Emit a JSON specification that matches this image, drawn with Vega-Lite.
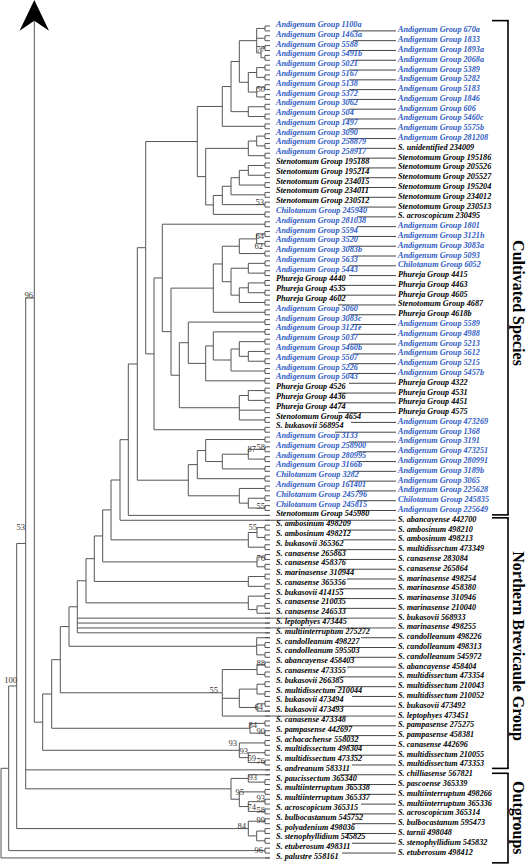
{
"$schema": "https://vega.github.io/schema/vega-lite/v6.json",
"width": 528, "height": 865, "padding": 0,
"autosize": {"type": "fit", "contains": "padding"},
"background": "white",
"config": {"view": {"stroke": null}},
"datasets": {
"v": [
{"x":261,"y":5.5,"y2":7.5},{"x":256.7,"y":1.5,"y2":6.5},{"x":256.7,"y":9.5,"y2":11.5},{"x":256.7,"y":13.5,"y2":15.5},{"x":248.3,"y":10.5,"y2":14.5},{"x":239.3,"y":4,"y2":12.5},{"x":248.3,"y":17.5,"y2":19.5},{"x":231,"y":8.25,"y2":18.5},{"x":222.3,"y":13.375,"y2":21.5},{"x":256.7,"y":23.5,"y2":25.5},{"x":248.3,"y":24.5,"y2":27.5},{"x":248.3,"y":29.5,"y2":31.5},{"x":239.3,"y":30.5,"y2":33.5},{"x":231,"y":32,"y2":35.5},{"x":222.3,"y":33.75,"y2":37.5},{"x":213.3,"y":35.625,"y2":39.5},{"x":205.7,"y":26,"y2":37.56},{"x":197.3,"y":17.44,"y2":31.78},
{"x":256.7,"y":43.5,"y2":45.5},{"x":239.3,"y":44.5,"y2":47.5},{"x":248.3,"y":49.5,"y2":51.5},{"x":248.3,"y":53.5,"y2":55.5},{"x":239.3,"y":54.5,"y2":57.5},{"x":231,"y":50.5,"y2":56},{"x":222.3,"y":46,"y2":53.25},{"x":213.3,"y":49.625,"y2":59.5},{"x":248.3,"y":67.5,"y2":69.5},{"x":239.3,"y":65.5,"y2":68.5},{"x":231,"y":67,"y2":71.5},{"x":213.3,"y":63.5,"y2":69.25},{"x":205.7,"y":66.375,"y2":73.5},{"x":188.3,"y":61.5,"y2":69.94},{"x":248.3,"y":75.5,"y2":77.5},{"x":239.3,"y":76.5,"y2":81.5},{"x":179.3,"y":65.72,"y2":79},{"x":171,"y":54.56,"y2":72.36},{"x":162.3,"y":41.5,"y2":63.46},{"x":154,"y":52.48,"y2":83.5},{"x":145.7,"y":24.61,"y2":67.99},
{"x":248.3,"y":87.5,"y2":89.5},{"x":222.3,"y":88.5,"y2":91.5},{"x":205.7,"y":85.5,"y2":90},{"x":197.3,"y":87.75,"y2":93.5},{"x":248.3,"y":97.5,"y2":99.5},{"x":239.3,"y":95.5,"y2":98.5},{"x":188.3,"y":90.625,"y2":97},{"x":137.3,"y":46.3,"y2":93.81},{"x":128.3,"y":70.06,"y2":101},{"x":120,"y":85.53,"y2":102},
{"x":257,"y":103.5,"y2":105.5},{"x":248.3,"y":104.5,"y2":107.5},{"x":111,"y":93.77,"y2":106},{"x":257,"y":109.5,"y2":111.5},{"x":102.7,"y":99.89,"y2":110.5},{"x":248.3,"y":113.5,"y2":115.5},{"x":94.3,"y":105.2,"y2":114.5},{"x":257,"y":119.5,"y2":121},{"x":248.3,"y":117.5,"y2":120.25},{"x":86,"y":109.85,"y2":118.875},{"x":77.3,"y":114.36,"y2":125},{"x":256.7,"y":126,"y2":129.5},{"x":69,"y":119.68,"y2":127.75},{"x":257,"y":131.5,"y2":133.5},{"x":257,"y":135.5,"y2":137.5},{"x":257,"y":139.5,"y2":141},{"x":239.3,"y":136.5,"y2":140.25},{"x":222.3,"y":132.5,"y2":142},{"x":60.3,"y":123.72,"y2":137.25},{"x":250,"y":143.5,"y2":145.5},{"x":51.7,"y":130.49,"y2":144.5},{"x":248.3,"y":149.5,"y2":151.5},{"x":239.3,"y":147.5,"y2":150.5},{"x":42.7,"y":137.49,"y2":149},{"x":34.3,"y":-0.5,"y2":143.25},
{"x":248.3,"y":154,"y2":155.5},{"x":248.3,"y":159.5,"y2":161.5},{"x":239.3,"y":157.5,"y2":160.5},{"x":231,"y":154.75,"y2":159},{"x":25.7,"y":56.58,"y2":156.875},{"x":256.7,"y":165.5,"y2":167.5},{"x":248.3,"y":163.5,"y2":166.5},{"x":16.7,"y":106.73,"y2":165},{"x":8.7,"y":135.86,"y2":169.5},{"x":1,"y":152.68,"y2":171}
],
"h": [
{"x":261,"x2":265,"y":5.5},{"x":261,"x2":265,"y":7.5},
{"x":256.7,"x2":265,"y":1.5},{"x":256.7,"x2":265,"y":3.5},{"x":256.7,"x2":261,"y":6.5},
{"x":256.7,"x2":265,"y":9.5},{"x":256.7,"x2":265,"y":11.5},
{"x":256.7,"x2":265,"y":13.5},{"x":256.7,"x2":265,"y":15.5},
{"x":248.3,"x2":256.7,"y":10.5},{"x":248.3,"x2":256.7,"y":14.5},
{"x":239.3,"x2":256.7,"y":4},{"x":239.3,"x2":248.3,"y":12.5},
{"x":248.3,"x2":265,"y":17.5},{"x":248.3,"x2":265,"y":19.5},
{"x":231,"x2":239.3,"y":8.25},{"x":231,"x2":248.3,"y":18.5},
{"x":222.3,"x2":231,"y":13.375},{"x":222.3,"x2":265,"y":21.5},
{"x":256.7,"x2":265,"y":23.5},{"x":256.7,"x2":265,"y":25.5},
{"x":248.3,"x2":256.7,"y":24.5},{"x":248.3,"x2":265,"y":27.5},
{"x":248.3,"x2":265,"y":29.5},{"x":248.3,"x2":265,"y":31.5},
{"x":239.3,"x2":248.3,"y":30.5},{"x":239.3,"x2":265,"y":33.5},
{"x":231,"x2":239.3,"y":32},{"x":231,"x2":265,"y":35.5},
{"x":222.3,"x2":231,"y":33.75},{"x":222.3,"x2":265,"y":37.5},
{"x":213.3,"x2":222.3,"y":35.625},{"x":213.3,"x2":265,"y":39.5},
{"x":205.7,"x2":248.3,"y":26},{"x":205.7,"x2":213.3,"y":37.56},
{"x":197.3,"x2":222.3,"y":17.44},{"x":197.3,"x2":205.7,"y":31.78},
{"x":256.7,"x2":265,"y":43.5},{"x":256.7,"x2":265,"y":45.5},
{"x":239.3,"x2":256.7,"y":44.5},{"x":239.3,"x2":265,"y":47.5},
{"x":248.3,"x2":265,"y":49.5},{"x":248.3,"x2":265,"y":51.5},
{"x":248.3,"x2":265,"y":53.5},{"x":248.3,"x2":265,"y":55.5},
{"x":239.3,"x2":248.3,"y":54.5},{"x":239.3,"x2":265,"y":57.5},
{"x":231,"x2":248.3,"y":50.5},{"x":231,"x2":239.3,"y":56},
{"x":222.3,"x2":239.3,"y":46},{"x":222.3,"x2":231,"y":53.25},
{"x":213.3,"x2":222.3,"y":49.625},{"x":213.3,"x2":265,"y":59.5},
{"x":248.3,"x2":265,"y":67.5},{"x":248.3,"x2":265,"y":69.5},
{"x":239.3,"x2":265,"y":65.5},{"x":239.3,"x2":248.3,"y":68.5},
{"x":231,"x2":239.3,"y":67},{"x":231,"x2":265,"y":71.5},
{"x":213.3,"x2":265,"y":63.5},{"x":213.3,"x2":231,"y":69.25},
{"x":205.7,"x2":213.3,"y":66.375},{"x":205.7,"x2":265,"y":73.5},
{"x":188.3,"x2":265,"y":61.5},{"x":188.3,"x2":205.7,"y":69.94},
{"x":248.3,"x2":265,"y":75.5},{"x":248.3,"x2":265,"y":77.5},
{"x":239.3,"x2":248.3,"y":76.5},{"x":239.3,"x2":265,"y":79.5},{"x":239.3,"x2":265,"y":81.5},
{"x":179.3,"x2":188.3,"y":65.72},{"x":179.3,"x2":239.3,"y":79},
{"x":171,"x2":213.3,"y":54.56},{"x":171,"x2":179.3,"y":72.36},
{"x":162.3,"x2":265,"y":41.5},{"x":162.3,"x2":171,"y":63.46},
{"x":154,"x2":162.3,"y":52.48},{"x":154,"x2":265,"y":83.5},
{"x":145.7,"x2":197.3,"y":24.61},{"x":145.7,"x2":154,"y":67.99},
{"x":248.3,"x2":265,"y":87.5},{"x":248.3,"x2":265,"y":89.5},
{"x":222.3,"x2":248.3,"y":88.5},{"x":222.3,"x2":265,"y":91.5},
{"x":205.7,"x2":265,"y":85.5},{"x":205.7,"x2":222.3,"y":90},
{"x":197.3,"x2":205.7,"y":87.75},{"x":197.3,"x2":265,"y":93.5},
{"x":248.3,"x2":265,"y":97.5},{"x":248.3,"x2":265,"y":99.5},
{"x":239.3,"x2":265,"y":95.5},{"x":239.3,"x2":248.3,"y":98.5},
{"x":188.3,"x2":197.3,"y":90.625},{"x":188.3,"x2":239.3,"y":97},
{"x":137.3,"x2":145.7,"y":46.3},{"x":137.3,"x2":188.3,"y":93.81},
{"x":128.3,"x2":137.3,"y":70.06},{"x":128.3,"x2":270,"y":101},
{"x":120,"x2":128.3,"y":85.53},{"x":120,"x2":396,"y":102},
{"x":257,"x2":265,"y":103.5},{"x":257,"x2":265,"y":105.5},
{"x":248.3,"x2":257,"y":104.5},{"x":248.3,"x2":265,"y":107.5},
{"x":111,"x2":120,"y":93.77},{"x":111,"x2":248.3,"y":106},
{"x":257,"x2":265,"y":109.5},{"x":257,"x2":265,"y":111.5},
{"x":102.7,"x2":111,"y":99.89},{"x":102.7,"x2":257,"y":110.5},
{"x":248.3,"x2":265,"y":113.5},{"x":248.3,"x2":265,"y":115.5},
{"x":94.3,"x2":102.7,"y":105.2},{"x":94.3,"x2":248.3,"y":114.5},
{"x":257,"x2":265,"y":119.5},{"x":257,"x2":270,"y":121},
{"x":248.3,"x2":265,"y":117.5},{"x":248.3,"x2":257,"y":120.25},
{"x":86,"x2":94.3,"y":109.85},{"x":86,"x2":248.3,"y":118.875},
{"x":77.3,"x2":86,"y":114.36},{"x":77.3,"x2":396,"y":122},{"x":77.3,"x2":270,"y":123},{"x":77.3,"x2":396,"y":124},{"x":77.3,"x2":270,"y":125},
{"x":256.7,"x2":270,"y":126},{"x":256.7,"x2":265,"y":127.5},{"x":256.7,"x2":265,"y":129.5},
{"x":69,"x2":77.3,"y":119.68},{"x":69,"x2":256.7,"y":127.75},
{"x":257,"x2":265,"y":131.5},{"x":257,"x2":265,"y":133.5},
{"x":257,"x2":265,"y":135.5},{"x":257,"x2":265,"y":137.5},
{"x":257,"x2":265,"y":139.5},{"x":257,"x2":270,"y":141},
{"x":239.3,"x2":257,"y":136.5},{"x":239.3,"x2":257,"y":140.25},
{"x":222.3,"x2":257,"y":132.5},{"x":222.3,"x2":239.3,"y":138.375},{"x":222.3,"x2":396,"y":142},
{"x":60.3,"x2":69,"y":123.72},{"x":60.3,"x2":222.3,"y":137.25},
{"x":250,"x2":265,"y":143.5},{"x":250,"x2":265,"y":145.5},
{"x":51.7,"x2":60.3,"y":130.49},{"x":51.7,"x2":250,"y":144.5},
{"x":248.3,"x2":265,"y":149.5},{"x":248.3,"x2":265,"y":151.5},
{"x":239.3,"x2":265,"y":147.5},{"x":239.3,"x2":248.3,"y":150.5},
{"x":42.7,"x2":51.7,"y":137.49},{"x":42.7,"x2":239.3,"y":149},
{"x":34.3,"x2":42.7,"y":143.25},
{"x":248.3,"x2":270,"y":154},{"x":248.3,"x2":265,"y":155.5},
{"x":248.3,"x2":265,"y":159.5},{"x":248.3,"x2":265,"y":161.5},
{"x":239.3,"x2":265,"y":157.5},{"x":239.3,"x2":248.3,"y":160.5},
{"x":231,"x2":248.3,"y":154.75},{"x":231,"x2":239.3,"y":159},
{"x":25.7,"x2":34.3,"y":56.58},{"x":25.7,"x2":270,"y":153},{"x":25.7,"x2":231,"y":156.875},
{"x":256.7,"x2":265,"y":165.5},{"x":256.7,"x2":265,"y":167.5},
{"x":248.3,"x2":265,"y":163.5},{"x":248.3,"x2":256.7,"y":166.5},
{"x":16.7,"x2":25.7,"y":106.73},{"x":16.7,"x2":248.3,"y":165},
{"x":8.7,"x2":16.7,"y":135.86},{"x":8.7,"x2":265,"y":169.5},
{"x":1,"x2":8.7,"y":152.68},{"x":1,"x2":270,"y":171}
],
"pairs": [
{"y":1,"y2":2},{"y":3,"y2":4},{"y":5,"y2":6},{"y":7,"y2":8},{"y":9,"y2":10},{"y":11,"y2":12},{"y":13,"y2":14},{"y":15,"y2":16},{"y":17,"y2":18},{"y":19,"y2":20},
{"y":21,"y2":22},{"y":23,"y2":24},{"y":25,"y2":26},{"y":27,"y2":28},{"y":29,"y2":30},{"y":31,"y2":32},{"y":33,"y2":34},{"y":35,"y2":36},{"y":37,"y2":38},{"y":39,"y2":40},
{"y":41,"y2":42},{"y":43,"y2":44},{"y":45,"y2":46},{"y":47,"y2":48},{"y":49,"y2":50},{"y":51,"y2":52},{"y":53,"y2":54},{"y":55,"y2":56},{"y":57,"y2":58},{"y":59,"y2":60},
{"y":61,"y2":62},{"y":63,"y2":64},{"y":65,"y2":66},{"y":67,"y2":68},{"y":69,"y2":70},{"y":71,"y2":72},{"y":73,"y2":74},{"y":75,"y2":76},{"y":77,"y2":78},{"y":79,"y2":80},
{"y":81,"y2":82},{"y":83,"y2":84},{"y":85,"y2":86},{"y":87,"y2":88},{"y":89,"y2":90},{"y":91,"y2":92},{"y":93,"y2":94},{"y":95,"y2":96},{"y":97,"y2":98},{"y":99,"y2":100},
{"y":103,"y2":104},{"y":105,"y2":106},{"y":107,"y2":108},{"y":109,"y2":110},{"y":111,"y2":112},{"y":113,"y2":114},{"y":115,"y2":116},{"y":117,"y2":118},{"y":119,"y2":120},
{"y":127,"y2":128},{"y":129,"y2":130},{"y":131,"y2":132},{"y":133,"y2":134},{"y":135,"y2":136},{"y":137,"y2":138},{"y":139,"y2":140},
{"y":143,"y2":144},{"y":145,"y2":146},{"y":147,"y2":148},{"y":149,"y2":150},{"y":151,"y2":152},
{"y":155,"y2":156},{"y":157,"y2":158},{"y":159,"y2":160},{"y":161,"y2":162},{"y":163,"y2":164},{"y":165,"y2":166},{"y":167,"y2":168},{"y":169,"y2":170}
],
"lead": [
{"x":353,"p":2},{"x":353,"p":4},{"x":349,"p":6},{"x":353,"p":8},{"x":349,"p":10},{"x":349,"p":12},{"x":349,"p":14},{"x":349,"p":16},{"x":349,"p":18},{"x":345,"p":20},
{"x":349,"p":22},{"x":349,"p":24},{"x":357,"p":26},{"x":357,"p":28},{"x":359,"p":30},{"x":359,"p":32},{"x":359,"p":34},{"x":359,"p":36},{"x":359,"p":38},{"x":357,"p":40},
{"x":357,"p":42},{"x":349,"p":44},{"x":349,"p":46},{"x":353,"p":48},{"x":349,"p":50},{"x":349,"p":52},{"x":338,"p":54},{"x":338,"p":56},{"x":338,"p":58},{"x":349,"p":60},
{"x":353,"p":62},{"x":353,"p":64},{"x":349,"p":66},{"x":353,"p":68},{"x":349,"p":70},{"x":349,"p":72},{"x":349,"p":74},{"x":338,"p":76},{"x":338,"p":78},{"x":338,"p":80},
{"x":351,"p":82},{"x":335,"p":84},{"x":349,"p":86},{"x":357,"p":88},{"x":357,"p":90},{"x":353,"p":92},{"x":349,"p":94},{"x":357,"p":96},{"x":357,"p":98},{"x":357,"p":100},
{"x":343,"p":104},{"x":343,"p":106},{"x":335,"p":108},{"x":339,"p":110},{"x":339,"p":112},{"x":347,"p":114},{"x":339,"p":116},{"x":335,"p":118},{"x":339,"p":120},
{"x":361,"p":126},{"x":350,"p":128},{"x":350,"p":130},{"x":347,"p":132},{"x":339,"p":134},{"x":335,"p":136},{"x":352,"p":138},{"x":335,"p":140},
{"x":339,"p":144},{"x":344,"p":146},{"x":348,"p":148},{"x":352,"p":150},{"x":352,"p":152},{"x":340,"p":154},
{"x":348,"p":156},{"x":361,"p":158},{"x":361,"p":160},{"x":348,"p":162},{"x":352,"p":164},{"x":345,"p":166},{"x":352,"p":168},{"x":342,"p":170}
],
"left": [
{"t":"Andigenum Group 1100a","p":1},{"t":"Andigenum Group 1463a","p":3},{"t":"Andigenum Group 5588","p":5},{"t":"Andigenum Group 5491b","p":7},{"t":"Andigenum Group 5021","p":9},{"t":"Andigenum Group 5167","p":11},{"t":"Andigenum Group 5138","p":13},{"t":"Andigenum Group 5372","p":15},{"t":"Andigenum Group 3062","p":17},{"t":"Andigenum Group 504","p":19},
{"t":"Andigenum Group 1497","p":21},{"t":"Andigenum Group 3090","p":23},{"t":"Andigenum Group 258879","p":25},{"t":"Andigenum Group 258917","p":27},{"t":"Stenotomum Group 195188","p":29},{"t":"Stenotomum Group 195214","p":31},{"t":"Stenotomum Group 234015","p":33},{"t":"Stenotomum Group 234011","p":35},{"t":"Stenotomum Group 230512","p":37},{"t":"Chilotanum Group 245940","p":39},
{"t":"Andigenum Group 281038","p":41},{"t":"Andigenum Group 5594","p":43},{"t":"Andigenum Group 3520","p":45},{"t":"Andigenum Group 3083b","p":47},{"t":"Andigenum Group 5633","p":49},{"t":"Andigenum Group 5443","p":51},{"t":"Phureja Group 4440","p":53},{"t":"Phureja Group 4535","p":55},{"t":"Phureja Group 4602","p":57},{"t":"Andigenum Group 5060","p":59},
{"t":"Andigenum Group 3083c","p":61},{"t":"Andigenum Group 3121e","p":63},{"t":"Andigenum Group 5037","p":65},{"t":"Andigenum Group 5460b","p":67},{"t":"Andigenum Group 5507","p":69},{"t":"Andigenum Group 5226","p":71},{"t":"Andigenum Group 5043","p":73},{"t":"Phureja Group 4526","p":75},{"t":"Phureja Group 4436","p":77},{"t":"Phureja Group 4474","p":79},
{"t":"Stenotomum Group 4654","p":81},{"t":"S. bukasovii 568954","p":83},{"t":"Andigenum Group 3133","p":85},{"t":"Andigenum Group 258900","p":87},{"t":"Andigenum Group 280995","p":89},{"t":"Andigenum Group 3166b","p":91},{"t":"Chilotanum Group 3282","p":93},{"t":"Andigenum Group 161401","p":95},{"t":"Chilotanum Group 245796","p":97},{"t":"Chilotanum Group 245815","p":99},
{"t":"Stenotomum Group 545980","p":101},{"t":"S. ambosinum 498209","p":103},{"t":"S. ambosinum 498212","p":105},{"t":"S. bukasovii 365362","p":107},{"t":"S. canasense 265863","p":109},{"t":"S. canasense 458376","p":111},{"t":"S. marinasense 310944","p":113},{"t":"S. canasense 365356","p":115},{"t":"S. bukasovii 414155","p":117},{"t":"S. canasense 210035","p":119},
{"t":"S. canasense 246533","p":121},{"t":"S. leptophyes 473445","p":123},{"t":"S. multiinterruptum 275272","p":125},{"t":"S. candolleanum 498227","p":127},{"t":"S. candolleanum 595503","p":129},{"t":"S. abancayense 458403","p":131},{"t":"S. canasense 473355","p":133},{"t":"S. bukasovii 266385","p":135},{"t":"S. multidissectum 210044","p":137},{"t":"S. bukasovii 473494","p":139},
{"t":"S. bukasovii 473493","p":141},{"t":"S. canasense 473348","p":143},{"t":"S. pampasense 442697","p":145},{"t":"S. achacachense 558032","p":147},{"t":"S. multidissectum 498304","p":149},{"t":"S. multidissectum 473352","p":151},{"t":"S. andreanum 583311","p":153},{"t":"S. paucissectum 365340","p":155},{"t":"S. multiinterruptum 365338","p":157},{"t":"S. multiinterruptum 365337","p":159},
{"t":"S. acroscopicum 365315","p":161},{"t":"S. bulbocastanum 545752","p":163},{"t":"S. polyadenium 498036","p":165},{"t":"S. stenophyllidium 545825","p":167},{"t":"S. etuberosum 498311","p":169},{"t":"S. palustre 558161","p":171}
],
"right": [
{"t":"Andigenum Group 670a","p":2},{"t":"Andigenum Group 1833","p":4},{"t":"Andigenum Group 1893a","p":6},{"t":"Andigenum Group 2068a","p":8},{"t":"Andigenum Group 5389","p":10},{"t":"Andigenum Group 5282","p":12},{"t":"Andigenum Group 5183","p":14},{"t":"Andigenum Group 1846","p":16},{"t":"Andigenum Group 606","p":18},{"t":"Andigenum Group 5460c","p":20},
{"t":"Andigenum Group 5575b","p":22},{"t":"Andigenum Group 281208","p":24},{"t":"S. unidentified 234009","p":26},{"t":"Stenotomum Group 195186","p":28},{"t":"Stenotomum Group 205526","p":30},{"t":"Stenotomum Group 205527","p":32},{"t":"Stenotomum Group 195204","p":34},{"t":"Stenotomum Group 234012","p":36},{"t":"Stenotomum Group 230513","p":38},{"t":"S. acroscopicum 230495","p":40},
{"t":"Andigenum Group 1801","p":42},{"t":"Andigenum Group 3121h","p":44},{"t":"Andigenum Group 3083a","p":46},{"t":"Andigenum Group 5093","p":48},{"t":"Chilotanum Group 6052","p":50},{"t":"Phureja Group 4415","p":52},{"t":"Phureja Group 4463","p":54},{"t":"Phureja Group 4605","p":56},{"t":"Stenotomum Group 4687","p":58},{"t":"Phureja Group 4618b","p":60},
{"t":"Andigenum Group 5589","p":62},{"t":"Andigenum Group 4988","p":64},{"t":"Andigenum Group 5213","p":66},{"t":"Andigenum Group 5612","p":68},{"t":"Andigenum Group 5215","p":70},{"t":"Andigenum Group 5457b","p":72},{"t":"Phureja Group 4322","p":74},{"t":"Phureja Group 4531","p":76},{"t":"Phureja Group 4451","p":78},{"t":"Phureja Group 4575","p":80},
{"t":"Andigenum Group 473269","p":82},{"t":"Andigenum Group 1368","p":84},{"t":"Andigenum Group 3191","p":86},{"t":"Andigenum Group 473251","p":88},{"t":"Andigenum Group 280991","p":90},{"t":"Andigenum Group 3189b","p":92},{"t":"Andigenum Group 3065","p":94},{"t":"Andigenum Group 225628","p":96},{"t":"Chilotanum Group 245835","p":98},{"t":"Andigenum Group 225649","p":100},
{"t":"S. abancayense 442700","p":102},{"t":"S. ambosinum 498210","p":104},{"t":"S. ambosinum 498213","p":106},{"t":"S. multidissectum 473349","p":108},{"t":"S. canasense 283084","p":110},{"t":"S. canasense 265864","p":112},{"t":"S. marinasense 498254","p":114},{"t":"S. marinasense 458380","p":116},{"t":"S. marinasense 310946","p":118},{"t":"S. marinasense 210040","p":120},
{"t":"S. bukasovii 568933","p":122},{"t":"S. marinasense 498255","p":124},{"t":"S. candolleanum 498226","p":126},{"t":"S. candolleanum 498313","p":128},{"t":"S. candolleanum 545972","p":130},{"t":"S. abancayense 458404","p":132},{"t":"S. multidissectum 473354","p":134},{"t":"S. multidissectum 210043","p":136},{"t":"S. multidissectum 210052","p":138},{"t":"S. bukasovii 473492","p":140},
{"t":"S. leptophyes 473451","p":142},{"t":"S. pampasense 275275","p":144},{"t":"S. pampasense 458381","p":146},{"t":"S. canasense 442696","p":148},{"t":"S. multidissectum 210055","p":150},{"t":"S. multidissectum 473353","p":152},{"t":"S. chilliasense 567821","p":154},{"t":"S. pascoense 365339","p":156},{"t":"S. multiinterruptum 498266","p":158},{"t":"S. multiinterruptum 365336","p":160},
{"t":"S. acroscopicum 365314","p":162},{"t":"S. bulbocastanum 595473","p":164},{"t":"S. tarnii 498048","p":166},{"t":"S. stenophyllidium 545832","p":168},{"t":"S. etuberosum 498412","p":170}
],
"support": [
{"t":"77","x":265,"y":5.7},{"t":"50","x":265,"y":13.87},{"t":"53","x":264,"y":36.96},{"t":"64","x":264,"y":43.91},{"t":"62","x":263,"y":45.95},{"t":"87","x":256,"y":87.43},{"t":"58","x":265,"y":87.03},{"t":"55","x":265,"y":99.08},{"t":"55","x":257,"y":103.37},{"t":"76","x":265,"y":109.71},
{"t":"88","x":265,"y":131.16},{"t":"55","x":218,"y":136.68},{"t":"64","x":263,"y":140.15},{"t":"84","x":257,"y":143.83},{"t":"90","x":265,"y":145.06},{"t":"93","x":237,"y":147.6},{"t":"93","x":248,"y":149.2},{"t":"59","x":256,"y":150.5},{"t":"76","x":265,"y":151.1},{"t":"93","x":257,"y":154.45},
{"t":"95","x":244,"y":157.52},{"t":"93","x":265,"y":158.85},{"t":"74","x":256,"y":160.5},{"t":"58","x":265,"y":161.3},{"t":"99","x":265,"y":163.2},{"t":"84","x":246,"y":164.47},{"t":"96","x":263,"y":169.37},{"t":"96","x":33,"y":55.97},{"t":"53","x":25,"y":103.37},{"t":"100","x":17,"y":134.63}
],
"groups": [
{"t":"Cultivated Species","y":-0.1,"y2":100.9,"c":57.6},
{"t":"Northern Brevicaule Group","y":101.5,"y2":152.7,"c":127.7},
{"t":"Outgroups","y":153.7,"y2":172.0,"c":162.8}
]
},
"layer": [
{"data":{"name":"v"},"mark":{"type":"rule","color":"#555","strokeWidth":1},
 "encoding":{"x":{"field":"x","type":"quantitative","scale":{"domain":[0,528],"nice":false,"zero":false},"axis":null},
 "y":{"field":"y","type":"quantitative","scale":{"domain":[-4.313,172.44],"nice":false,"zero":false,"reverse":true},"axis":null},"y2":{"field":"y2"}}},
{"data":{"name":"h"},"mark":{"type":"rule","color":"#555","strokeWidth":1},
 "encoding":{"x":{"field":"x","type":"quantitative","scale":{"domain":[0,528],"nice":false,"zero":false},"axis":null},"x2":{"field":"x2"},
 "y":{"field":"y","type":"quantitative","scale":{"domain":[-4.313,172.44],"nice":false,"zero":false,"reverse":true},"axis":null}}},
{"data":{"name":"pairs"},"mark":{"type":"rule","color":"#555","strokeWidth":1},
 "encoding":{"x":{"datum":265,"type":"quantitative","scale":{"domain":[0,528],"nice":false,"zero":false},"axis":null},
 "y":{"field":"y","type":"quantitative","scale":{"domain":[-4.313,172.44],"nice":false,"zero":false,"reverse":true},"axis":null},"y2":{"field":"y2"}}},
{"data":{"name":"left"},"mark":{"type":"rule","color":"#555","strokeWidth":1},
 "encoding":{"x":{"datum":265,"type":"quantitative","scale":{"domain":[0,528],"nice":false,"zero":false},"axis":null},"x2":{"datum":270},
 "y":{"field":"p","type":"quantitative","scale":{"domain":[-4.313,172.44],"nice":false,"zero":false,"reverse":true},"axis":null}}},
{"data":{"name":"right"},"mark":{"type":"rule","color":"#555","strokeWidth":1},
 "encoding":{"x":{"datum":265,"type":"quantitative","scale":{"domain":[0,528],"nice":false,"zero":false},"axis":null},"x2":{"datum":270},
 "y":{"field":"p","type":"quantitative","scale":{"domain":[-4.313,172.44],"nice":false,"zero":false,"reverse":true},"axis":null}}},
{"data":{"name":"lead"},"mark":{"type":"rule","color":"#444","strokeWidth":1},
 "encoding":{"x":{"field":"x","type":"quantitative","scale":{"domain":[0,528],"nice":false,"zero":false},"axis":null},"x2":{"datum":396},
 "y":{"field":"p","type":"quantitative","scale":{"domain":[-4.313,172.44],"nice":false,"zero":false,"reverse":true},"axis":null}}},
{"data":{"name":"groups"},"mark":{"type":"rule","color":"black","strokeWidth":1.6},
 "encoding":{"x":{"datum":508,"type":"quantitative","scale":{"domain":[0,528],"nice":false,"zero":false},"axis":null},
 "y":{"field":"y","type":"quantitative","scale":{"domain":[-4.313,172.44],"nice":false,"zero":false,"reverse":true},"axis":null},"y2":{"field":"y2"}}},
{"data":{"name":"groups"},"mark":{"type":"rule","color":"black","strokeWidth":1.6},
 "encoding":{"x":{"datum":492,"type":"quantitative","scale":{"domain":[0,528],"nice":false,"zero":false},"axis":null},"x2":{"datum":508.8},
 "y":{"field":"y","type":"quantitative","scale":{"domain":[-4.313,172.44],"nice":false,"zero":false,"reverse":true},"axis":null}}},
{"data":{"name":"groups"},"mark":{"type":"rule","color":"black","strokeWidth":1.6},
 "encoding":{"x":{"datum":492,"type":"quantitative","scale":{"domain":[0,528],"nice":false,"zero":false},"axis":null},"x2":{"datum":508.8},
 "y":{"field":"y2","type":"quantitative","scale":{"domain":[-4.313,172.44],"nice":false,"zero":false,"reverse":true},"axis":null}}},
{"data":{"values":[{}]},"mark":{"type":"point","shape":"M0,-1L0.96,1L0,0.35L-0.96,1Z","filled":true,"color":"black","opacity":1,"size":942,"strokeWidth":0},
 "encoding":{"x":{"datum":34.3,"type":"quantitative","scale":{"domain":[0,528],"nice":false,"zero":false},"axis":null},
 "y":{"datum":-1.176,"type":"quantitative","scale":{"domain":[-4.313,172.44],"nice":false,"zero":false,"reverse":true},"axis":null}}},
{"data":{"name":"left"},"mark":{"type":"text","align":"left","baseline":"middle","font":"Liberation Serif","fontSize":8.2,"fontWeight":"bold","fontStyle":"italic","dy":-1},
 "encoding":{"x":{"datum":276,"type":"quantitative","scale":{"domain":[0,528],"nice":false,"zero":false},"axis":null},
 "y":{"field":"p","type":"quantitative","scale":{"domain":[-4.313,172.44],"nice":false,"zero":false,"reverse":true},"axis":null},
 "text":{"field":"t"},
 "color":{"condition":{"test":"indexof(datum.t,'Andigenum')>=0 || indexof(datum.t,'Chilotanum')>=0","value":"#2f5cc4"},"value":"#000000"}}},
{"data":{"name":"right"},"mark":{"type":"text","align":"left","baseline":"middle","font":"Liberation Serif","fontSize":8.2,"fontWeight":"bold","fontStyle":"italic","dy":-0.5},
 "encoding":{"x":{"datum":398,"type":"quantitative","scale":{"domain":[0,528],"nice":false,"zero":false},"axis":null},
 "y":{"field":"p","type":"quantitative","scale":{"domain":[-4.313,172.44],"nice":false,"zero":false,"reverse":true},"axis":null},
 "text":{"field":"t"},
 "color":{"condition":{"test":"indexof(datum.t,'Andigenum')>=0 || indexof(datum.t,'Chilotanum')>=0","value":"#2f5cc4"},"value":"#000000"}}},
{"data":{"name":"support"},"mark":{"type":"text","align":"right","baseline":"middle","font":"Liberation Serif","fontSize":8.5,"color":"#333"},
 "encoding":{"x":{"field":"x","type":"quantitative","scale":{"domain":[0,528],"nice":false,"zero":false},"axis":null},
 "y":{"field":"y","type":"quantitative","scale":{"domain":[-4.313,172.44],"nice":false,"zero":false,"reverse":true},"axis":null},
 "text":{"field":"t"}}},
{"data":{"name":"groups"},"mark":{"type":"text","align":"center","baseline":"middle","angle":90,"font":"Liberation Serif","fontSize":16,"fontWeight":"bold","color":"black"},
 "encoding":{"x":{"datum":518,"type":"quantitative","scale":{"domain":[0,528],"nice":false,"zero":false},"axis":null},
 "y":{"field":"c","type":"quantitative","scale":{"domain":[-4.313,172.44],"nice":false,"zero":false,"reverse":true},"axis":null},
 "text":{"field":"t"}}}
]
}
